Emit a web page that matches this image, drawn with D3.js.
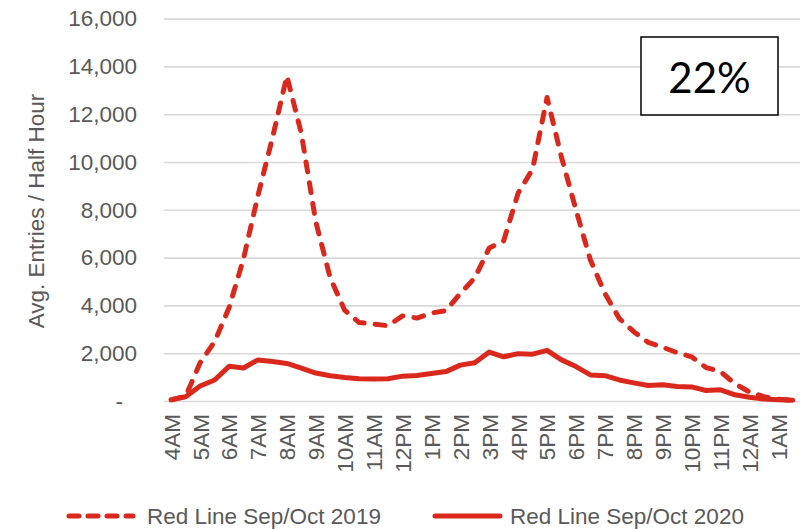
<!DOCTYPE html>
<html>
<head>
<meta charset="utf-8">
<script src="https://cdn.jsdelivr.net/npm/d3@7"></script>
<style>
  body { margin: 0; background: #fff; }
  svg { display: block; }
</style>
</head>
<body>
<script>
// half-hour slots shown on the x axis
const slots = [
  "4:00AM", "4:30AM", "5:00AM", "5:30AM", "6:00AM", "6:30AM", "7:00AM", "7:30AM",
  "8:00AM", "8:30AM", "9:00AM", "9:30AM", "10:00AM", "10:30AM", "11:00AM", "11:30AM",
  "12:00PM", "12:30PM", "1:00PM", "1:30PM", "2:00PM", "2:30PM", "3:00PM", "3:30PM",
  "4:00PM", "4:30PM", "5:00PM", "5:30PM", "6:00PM", "6:30PM", "7:00PM", "7:30PM",
  "8:00PM", "8:30PM", "9:00PM", "9:30PM", "10:00PM", "10:30PM", "11:00PM", "11:30PM",
  "12:00AM", "12:30AM", "1:00AM", "1:30AM"
];

// hourly tick labels
const tickSlots = [
  "4:00AM", "5:00AM", "6:00AM", "7:00AM", "8:00AM", "9:00AM", "10:00AM", "11:00AM",
  "12:00PM", "1:00PM", "2:00PM", "3:00PM", "4:00PM", "5:00PM", "6:00PM", "7:00PM",
  "8:00PM", "9:00PM", "10:00PM", "11:00PM", "12:00AM", "1:00AM"
];
const tickLabels = [
  "4AM", "5AM", "6AM", "7AM", "8AM", "9AM", "10AM", "11AM", "12PM", "1PM", "2PM",
  "3PM", "4PM", "5PM", "6PM", "7PM", "8PM", "9PM", "10PM", "11PM", "12AM", "1AM"
];

const yTicks = [0, 2000, 4000, 6000, 8000, 10000, 12000, 14000, 16000];

const entries2019 = [
  50, 200, 1600, 2480, 3900, 5950, 8600, 11000,
  13600, 11200, 7500, 5150, 3800, 3280, 3220, 3150,
  3560, 3470, 3680, 3780, 4500, 5150, 6400, 6700,
  8700, 9700, 12700, 10200, 8000, 5900, 4500, 3450,
  2900, 2450, 2250, 2020, 1850, 1400, 1230, 720,
  380, 180, 80, 30
];

const entries2020 = [
  50, 180, 630, 880, 1450, 1380, 1720, 1650,
  1570, 1380, 1170, 1060, 980, 930, 920, 930,
  1040, 1070, 1150, 1230, 1500, 1600, 2050, 1850,
  1980, 1960, 2120, 1720, 1440, 1090, 1060, 880,
  760, 650, 680, 610, 590, 440, 470, 260,
  160, 80, 50, 30
];

const seriesNames = ["Red Line Sep/Oct 2019", "Red Line Sep/Oct 2020"];
const recoveryText = "22%";

const width = 808;
const height = 529;
const plotLeft = 164, plotRight = 800, plotTop = 18.6, plotBottom = 401;
const red = "#da291c";
const grey = "#595959";
const font = "'Liberation Sans', Arial, sans-serif";

const svg = d3.select("body").append("svg")
  .attr("width", width)
  .attr("height", height)
  .style("font-family", font);

const x = d3.scalePoint().domain(slots).range([plotLeft, plotRight]).padding(0.5);
const y = d3.scaleLinear().domain([0, 16000]).range([plotBottom, plotTop]);

// gridlines
svg.append("g")
  .attr("transform", `translate(${plotLeft},0)`)
  .call(d3.axisLeft(y).tickValues(yTicks).tickSize(-(plotRight - plotLeft)).tickFormat(""))
  .call(g => g.select(".domain").remove())
  .call(g => g.selectAll("line").attr("stroke", "#d9d9d9").attr("stroke-width", 1.6));

// y labels
svg.append("g")
  .attr("transform", `translate(${plotLeft},0)`)
  .call(d3.axisLeft(y).tickValues(yTicks).tickSize(0).tickPadding(27)
    .tickFormat(d => d === 0 ? "-" : d3.format(",")(d)))
  .call(g => g.select(".domain").remove())
  .call(g => g.selectAll("text")
    .attr("fill", grey)
    .attr("font-size", 22.5)
    .attr("font-family", font)
    .attr("dx", d => d === 0 ? -14 : 0));

// y title
svg.append("text")
  .attr("transform", "translate(44,211) rotate(-90)")
  .attr("text-anchor", "middle")
  .attr("fill", grey)
  .attr("font-size", 22.5)
  .text("Avg. Entries / Half Hour");

// x labels
svg.append("g")
  .attr("transform", `translate(0,${plotBottom})`)
  .call(d3.axisBottom(x).tickValues(tickSlots).tickSize(0)
    .tickFormat(d => tickLabels[tickSlots.indexOf(d)]))
  .call(g => g.select(".domain").remove())
  .call(g => g.selectAll("text")
    .attr("fill", grey)
    .attr("font-size", 22.5)
    .attr("font-family", font)
    .attr("text-anchor", "end")
    .attr("dy", "0.35em")
    .attr("y", 0)
    .attr("transform", "translate(0,13) rotate(-90)"));

const line = d3.line()
  .x((d, i) => x(slots[i]))
  .y(d => y(d));

svg.append("path")
  .datum(entries2019)
  .attr("fill", "none")
  .attr("stroke", red)
  .attr("stroke-width", 5)
  .attr("stroke-linejoin", "round")
  .attr("stroke-linecap", "round")
  .attr("stroke-dasharray", "10,11")
  .attr("d", line);

svg.append("path")
  .datum(entries2020)
  .attr("fill", "none")
  .attr("stroke", red)
  .attr("stroke-width", 5)
  .attr("stroke-linejoin", "round")
  .attr("stroke-linecap", "round")
  .attr("d", line);

// recovery box
const box = svg.append("g").attr("transform", "translate(641,37)");
box.append("rect")
  .attr("width", 137)
  .attr("height", 78)
  .attr("fill", "#fff")
  .attr("stroke", "#000")
  .attr("stroke-width", 1.5);
box.append("text")
  .attr("x", 68.5)
  .attr("y", 41)
  .attr("dy", "0.35em")
  .attr("text-anchor", "middle")
  .attr("font-family", "Lato, 'Open Sans', sans-serif")
  .attr("font-size", 42)
  .attr("fill", "#000")
  .text(recoveryText);

// legend
const legend = svg.append("g").attr("transform", "translate(0,516)");
const legendItems = [
  { name: seriesNames[0], x0: 69, x1: 133, dash: "10,9", tx: 147 },
  { name: seriesNames[1], x0: 435, x1: 500, dash: null, tx: 510 }
];
legendItems.forEach(it => {
  legend.append("line")
    .attr("x1", it.x0).attr("x2", it.x1)
    .attr("stroke", red)
    .attr("stroke-width", 5)
    .attr("stroke-linecap", "round")
    .attr("stroke-dasharray", it.dash);
  legend.append("text")
    .attr("x", it.tx)
    .attr("dy", "0.35em")
    .attr("fill", grey)
    .attr("font-size", 22.5)
    .text(it.name);
});
</script>
</body>
</html>
